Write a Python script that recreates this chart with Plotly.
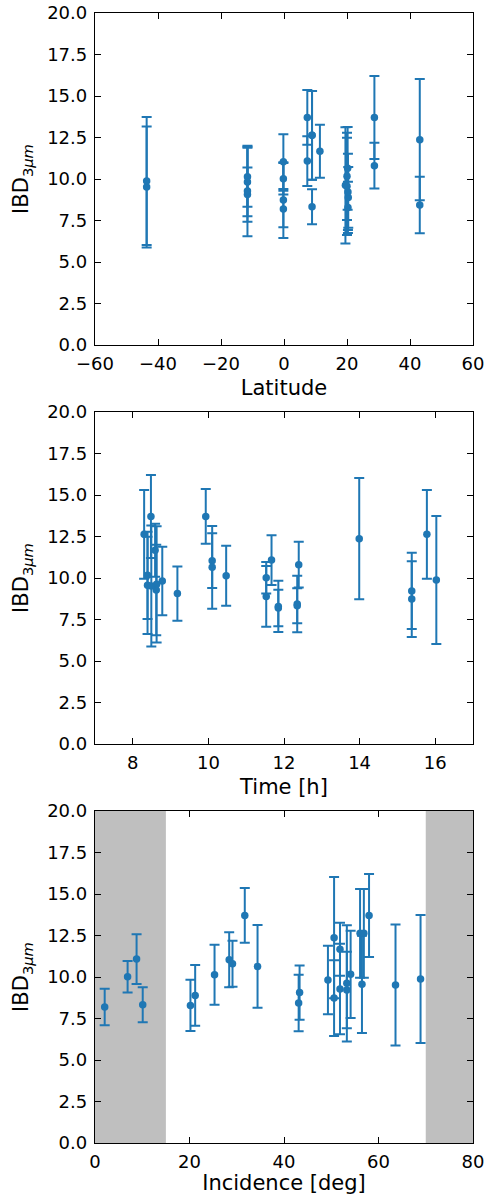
import plotly.graph_objects as go
from plotly.subplots import make_subplots

# One record per observation
incidence = [2.05, 6.9, 8.8, 10.1, 20.2, 21.2, 25.3, 28.4, 29.1, 31.7, 34.4, 43.1, 43.3, 49.3,
             50.6, 50.6, 51.85, 51.85, 53.3, 54.1, 53.3, 56.1, 56.9, 56.5, 58.0, 63.6, 68.9]
latitude = [-0.2, -0.2, 7.4, 8.9, 20.3, 20.4, -11.6, -0.2, 28.7, 7.4, 20.2, 43.1, -11.6, -11.6,
            43.1, -0.2, 11.4, -11.6, 19.5, 20.0, 20.3, 8.9, 8.9, 20.0, 28.7, -43.6, -43.6]
time_h = [11.85, 11.53, 11.67, 12.35, 11.85, 11.53, 10.47, 10.10, 12.39, 9.93, 10.10, 12.35, 9.18, 8.78,
          13.99, 15.38, 8.59, 8.62, 8.63, 8.39, 15.38, 8.30, 15.78, 8.39, 8.48, 8.49, 16.03]
ibd = [8.19, 10.02, 11.08, 8.33, 8.29, 8.89, 10.14, 11.04, 10.80, 13.71, 10.64, 8.43, 9.06, 9.82,
       12.37, 8.73, 11.67, 9.28, 9.62, 10.16, 9.22, 12.63, 12.63, 9.56, 13.71, 9.52, 9.88]
ibd_err = [1.10, 0.95, 1.50, 1.05, 1.55, 1.83, 1.81, 1.65, 1.38, 1.65, 2.49, 1.70, 1.64, 2.06,
           3.65, 2.28, 1.60, 2.73, 3.50, 2.63, 2.30, 2.67, 2.67, 2.93, 2.50, 3.65, 3.85]

y_ticks = [0.0, 2.5, 5.0, 7.5, 10.0, 12.5, 15.0, 17.5, 20.0]
lat_ticks = [-60, -40, -20, 0, 20, 40, 60]
time_ticks = [8, 10, 12, 14, 16]
inc_ticks = [0, 20, 40, 60, 80]
shade_ranges = [(0, 15), (70, 80)]

BLUE = "#1f77b4"
FONT = "DejaVu Sans"

fig = make_subplots(rows=3, cols=1, vertical_spacing=0.0)

xs = [latitude, time_h, incidence]
for i, xv in enumerate(xs, start=1):
    fig.add_trace(go.Scatter(
        x=xv, y=ibd, mode="markers",
        marker=dict(color=BLUE, size=7.5),
        error_y=dict(type="data", array=ibd_err, visible=True, color=BLUE, thickness=2, width=5),
        showlegend=False), row=i, col=1)

for (a, b) in shade_ranges:
    fig.add_shape(type="rect", xref="x3", yref="y3 domain", x0=a, x1=b, y0=0, y1=1,
                  fillcolor="#bfbfbf", line=dict(width=0), layer="below")

doms = [[0.7062, 1.0], [0.3531, 0.6469], [0.0, 0.2938]]
xranges = [[-60, 60], [7, 17], [0, 80]]
xticks = [lat_ticks, time_ticks, inc_ticks]
xtitles = ["Latitude", "Time [h]", "Incidence [deg]"]

axis_common = dict(showline=True, linecolor="black", linewidth=1.3, mirror="ticks",
                   ticks="inside", ticklen=6, tickwidth=1.3, tickcolor="black",
                   showgrid=False, zeroline=False, automargin=False,
                   tickfont=dict(family=FONT, size=18, color="black"))

for i in range(3):
    xa = "xaxis" if i == 0 else f"xaxis{i+1}"
    ya = "yaxis" if i == 0 else f"yaxis{i+1}"
    fig.layout[xa].update(range=xranges[i], tickvals=xticks[i],
                          ticktext=[f"{v}".replace("-", "\u2212") for v in xticks[i]],
                          ticklabelstandoff=2,
                          title=dict(text=xtitles[i], font=dict(family=FONT, size=21, color="black"),
                                     standoff=7),
                          **axis_common)
    fig.layout[ya].update(range=[0, 20], domain=doms[i], tickvals=y_ticks,
                          ticktext=[f"{v:.1f}" for v in y_ticks],
                          ticklabelstandoff=3,
                          title=dict(text="IBD<sub>3<i>\u03bcm</i></sub>",
                                     font=dict(family=FONT, size=21, color="black"), standoff=12),
                          **axis_common)

fig.update_layout(width=492, height=1195, margin=dict(l=95, r=19, t=13, b=52, autoexpand=False),
                  plot_bgcolor="white", paper_bgcolor="white",
                  font=dict(family=FONT, color="black"))

fig.write_html("out.html", config={"displayModeBar": False},
               post_script="document.body.style.margin='0';")
